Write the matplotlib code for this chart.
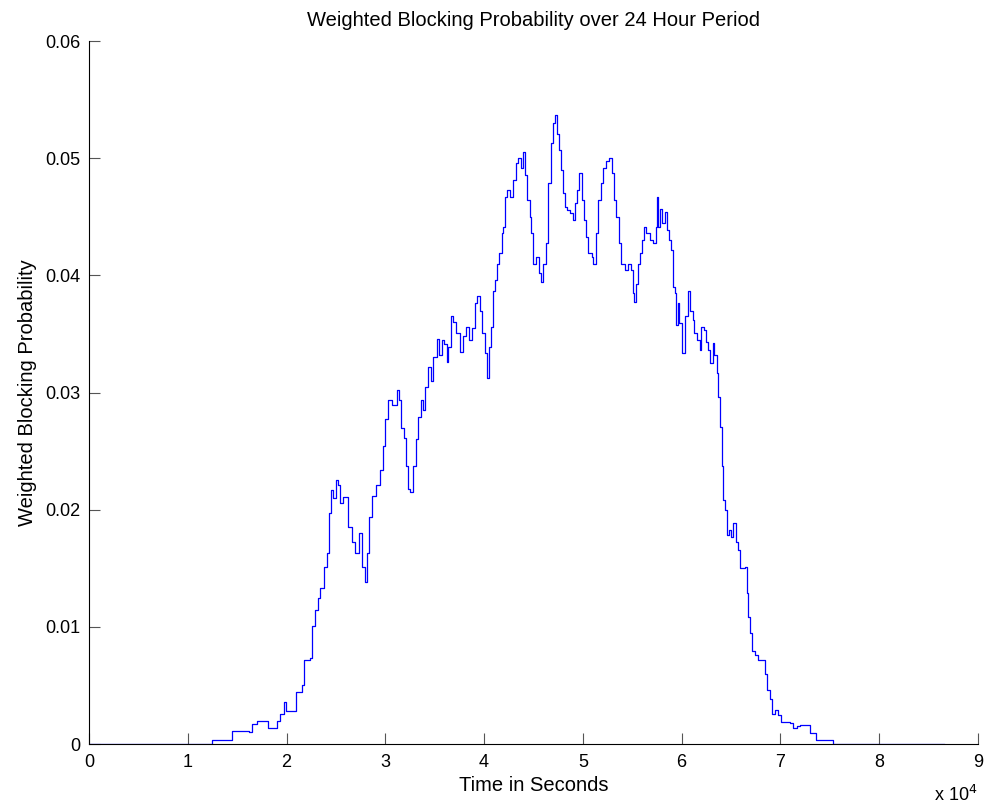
import matplotlib
matplotlib.use("Agg")
import matplotlib.pyplot as plt
import numpy as np

# time in units of 1e4 seconds, blocking probability (step changes)
time_1e4 = [
    0.00, 1.25, 1.45, 1.62, 1.65, 1.70, 1.81, 1.90, 1.93, 1.97, 1.99, 2.10, 2.16, 2.18, 2.24,
    2.26, 2.29, 2.32, 2.34, 2.38, 2.41, 2.43, 2.45, 2.47, 2.50, 2.52, 2.54, 2.57, 2.62, 2.66,
    2.69, 2.73, 2.76, 2.79, 2.81, 2.84, 2.87, 2.91, 2.95, 2.98, 3.00, 3.03, 3.07, 3.12, 3.14,
    3.16, 3.19, 3.21, 3.23, 3.25, 3.28, 3.31, 3.33, 3.36, 3.38, 3.40, 3.43, 3.46, 3.48, 3.52,
    3.54, 3.57, 3.59, 3.62, 3.63, 3.67, 3.69, 3.72, 3.76, 3.79, 3.82, 3.85, 3.88, 3.91, 3.93,
    3.96, 3.98, 4.01, 4.03, 4.05, 4.07, 4.09, 4.11, 4.13, 4.15, 4.18, 4.19, 4.21, 4.23, 4.26,
    4.29, 4.32, 4.34, 4.37, 4.39, 4.41, 4.43, 4.46, 4.48, 4.50, 4.53, 4.56, 4.58, 4.60, 4.63,
    4.65, 4.68, 4.70, 4.72, 4.74, 4.76, 4.78, 4.80, 4.82, 4.84, 4.87, 4.90, 4.92, 4.94, 4.96,
    4.99, 5.01, 5.03, 5.05, 5.09, 5.10, 5.13, 5.15, 5.18, 5.20, 5.23, 5.26, 5.29, 5.30, 5.32,
    5.34, 5.37, 5.39, 5.43, 5.46, 5.49, 5.51, 5.52, 5.54, 5.56, 5.58, 5.60, 5.62, 5.64, 5.68,
    5.71, 5.74, 5.75, 5.76, 5.78, 5.80, 5.83, 5.85, 5.87, 5.89, 5.91, 5.93, 5.94, 5.96, 5.97,
    6.00, 6.03, 6.06, 6.08, 6.11, 6.13, 6.16, 6.19, 6.20, 6.23, 6.25, 6.27, 6.29, 6.32, 6.33,
    6.36, 6.37, 6.39, 6.41, 6.42, 6.44, 6.46, 6.48, 6.50, 6.52, 6.55, 6.57, 6.59, 6.64, 6.66,
    6.67, 6.69, 6.71, 6.74, 6.77, 6.84, 6.86, 6.89, 6.91, 6.95, 6.98, 7.01, 7.10, 7.13, 7.17,
    7.20, 7.30, 7.36, 7.53, 8.66,
]
blocking = [
    0.0, 0.00034, 0.00114, 0.0010, 0.0017, 0.0020, 0.0014, 0.0020, 0.0026, 0.0036, 0.0028, 0.0044, 0.0050, 0.0072, 0.0073,
    0.0101, 0.0114, 0.0125, 0.0133, 0.0151, 0.0163, 0.0197, 0.0217, 0.0210, 0.0225, 0.0221, 0.0206, 0.0211, 0.0185, 0.0172,
    0.0163, 0.0180, 0.0151, 0.0138, 0.0163, 0.0194, 0.0212, 0.0221, 0.0234, 0.0254, 0.0277, 0.0294, 0.0289, 0.0302, 0.0294,
    0.0270, 0.0261, 0.0237, 0.0218, 0.0215, 0.0237, 0.0260, 0.0279, 0.0294, 0.0285, 0.0305, 0.0322, 0.0310, 0.0330, 0.0346,
    0.0332, 0.0345, 0.0341, 0.0326, 0.0339, 0.0365, 0.0360, 0.0351, 0.0335, 0.0348, 0.0356, 0.0345, 0.0355, 0.0376, 0.0382,
    0.0370, 0.0351, 0.0334, 0.0312, 0.0339, 0.0356, 0.0387, 0.0396, 0.0410, 0.0419, 0.0436, 0.0441, 0.0467, 0.0473, 0.0467,
    0.0481, 0.0496, 0.0500, 0.0492, 0.0505, 0.0486, 0.0464, 0.0450, 0.0436, 0.0410, 0.0416, 0.0402, 0.0394, 0.0410, 0.0428,
    0.0479, 0.0513, 0.0530, 0.0537, 0.0521, 0.0507, 0.0490, 0.0470, 0.0458, 0.0456, 0.0453, 0.0447, 0.0462, 0.0473, 0.0487,
    0.0464, 0.0447, 0.0433, 0.0419, 0.0416, 0.0410, 0.0436, 0.0464, 0.0479, 0.0492, 0.0498, 0.0500, 0.0498, 0.0487, 0.0464,
    0.0450, 0.0428, 0.0410, 0.0405, 0.0410, 0.0405, 0.0385, 0.0377, 0.0393, 0.0410, 0.0419, 0.0430, 0.0441, 0.0436, 0.0430,
    0.0428, 0.0441, 0.0467, 0.0441, 0.0457, 0.0445, 0.0454, 0.0439, 0.0430, 0.0422, 0.0390, 0.0385, 0.0358, 0.0376, 0.0359,
    0.0334, 0.0365, 0.0387, 0.0370, 0.0362, 0.0351, 0.0345, 0.0336, 0.0356, 0.0353, 0.0343, 0.0336, 0.0325, 0.0342, 0.0332,
    0.0317, 0.0296, 0.0271, 0.0237, 0.0208, 0.0200, 0.0178, 0.0183, 0.0177, 0.0189, 0.0172, 0.0166, 0.0150, 0.0151, 0.0129,
    0.0108, 0.0095, 0.0079, 0.0076, 0.0072, 0.0060, 0.0046, 0.0038, 0.0026, 0.0029, 0.0025, 0.0019, 0.0018, 0.0014, 0.0015,
    0.0016, 0.0009, 0.0003, 0.0, 0.0,
]
x_ticks = [0, 1, 2, 3, 4, 5, 6, 7, 8, 9]
y_ticks = [0, 0.01, 0.02, 0.03, 0.04, 0.05, 0.06]

plt.rcParams["font.family"] = ["Liberation Sans", "DejaVu Sans"]

fig = plt.figure(figsize=(9.95, 8.11), dpi=100)
ax = fig.add_axes([0.0894, 0.0826, 0.8935, 0.8668])

t = np.array(time_1e4) * 1e4
ax.plot(t, blocking, color="#0000ff", linewidth=0.9, drawstyle="steps-post")

ax.set_xlim(0, 9e4)
ax.set_ylim(0, 0.06)
ax.set_xticks([v * 1e4 for v in x_ticks])
ax.set_xticklabels([str(v) for v in x_ticks])
ax.set_yticks(y_ticks)
ax.set_yticklabels(["0"] + [f"{v:.2f}" for v in y_ticks[1:]])
ax.tick_params(direction="in", length=8, width=0.8, labelsize=13, color="#555555")
ax.tick_params(axis="x", pad=7)
ax.tick_params(axis="y", pad=6)

for side in ("top", "right"):
    ax.spines[side].set_visible(False)

ax.set_title("Weighted Blocking Probability over 24 Hour Period", fontsize=14.5, pad=11)
ax.set_xlabel("Time in Seconds", fontsize=14.5, labelpad=4)
ax.set_ylabel("Weighted Blocking Probability", fontsize=14.5, labelpad=6)
fig.text(0.939, 0.008, r"x 10$^{4}$", fontsize=13, ha="left", va="bottom")

fig.savefig("out.png", dpi=100)
plt.close(fig)
